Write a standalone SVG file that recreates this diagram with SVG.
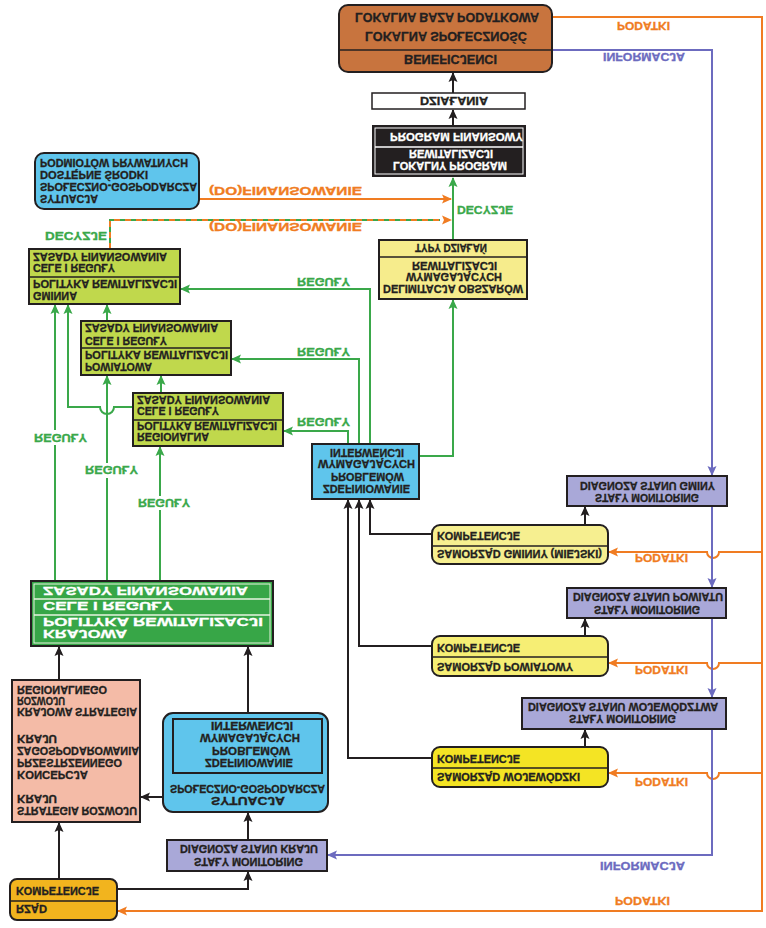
<svg xmlns="http://www.w3.org/2000/svg" width="766" height="928" viewBox="0 0 766 928">
<style>
.t{font-family:"Liberation Sans",Arial,sans-serif;font-weight:bold;font-size:11px;fill:#231f20;stroke:#231f20;stroke-width:0.3}
.w{fill:#ffffff;stroke:#ffffff}
.lg{fill:#3aa84a;stroke:#3aa84a}
.lo{fill:#f07c22;stroke:#f07c22}
.lb{fill:#6c6bbf;stroke:#6c6bbf}
.bx{stroke:#231f20;stroke-width:2}
.sep{stroke:#231f20;stroke-width:1.5;fill:none}
.cg{fill:none;stroke:#3aa84a;stroke-width:2}
.co{fill:none;stroke:#f07c22;stroke-width:2}
.cb{fill:none;stroke:#6c6bbf;stroke-width:2}
.ck{fill:none;stroke:#231f20;stroke-width:2}
</style>
<defs>
<marker id="ag" viewBox="0 0 10 10" refX="9" refY="5" markerWidth="10" markerHeight="10" markerUnits="userSpaceOnUse" orient="auto"><path d="M0,0.5 L10,5 L0,9.5 L2,5 z" fill="#3aa84a"/></marker>
<marker id="ao" viewBox="0 0 10 10" refX="9" refY="5" markerWidth="10" markerHeight="10" markerUnits="userSpaceOnUse" orient="auto"><path d="M0,0.5 L10,5 L0,9.5 L2,5 z" fill="#f07c22"/></marker>
<marker id="ab" viewBox="0 0 10 10" refX="9" refY="5" markerWidth="10" markerHeight="10" markerUnits="userSpaceOnUse" orient="auto"><path d="M0,0.5 L10,5 L0,9.5 L2,5 z" fill="#6c6bbf"/></marker>
<marker id="ak" viewBox="0 0 10 10" refX="9" refY="5" markerWidth="10" markerHeight="10" markerUnits="userSpaceOnUse" orient="auto"><path d="M0,0.5 L10,5 L0,9.5 L2,5 z" fill="#231f20"/></marker>
</defs>
<rect width="766" height="928" fill="#ffffff"/>

<g id="connectors">
  <!-- green -->
  <path class="cg" d="M55 581 V445 M55 430 V305" marker-end="url(#ag)"/>
  <path class="cg" d="M55 581 V445"/>
  <path class="cg" d="M107 581 V478 M107 463 V376" marker-end="url(#ag)"/>
  <path class="cg" d="M107 581 V478"/>
  <path class="cg" d="M160 581 V510 M160 496 V447" marker-end="url(#ag)"/>
  <path class="cg" d="M160 581 V510"/>
  <path class="cg" d="M161 393 V376" marker-end="url(#ag)"/>
  <path class="cg" d="M107 321 V305" marker-end="url(#ag)"/>
  <path class="cg" d="M133 407 H114 A7 7 0 0 1 100 407 H68 V305" marker-end="url(#ag)"/>
  <path class="cg" d="M370 444 V289 H181" marker-end="url(#ag)"/>
  <path class="cg" d="M359 444 V359 H232" marker-end="url(#ag)"/>
  <path class="cg" d="M348 444 V431 H284" marker-end="url(#ag)"/>
  <path class="cg" d="M419 456 H453 V300" marker-end="url(#ag)"/>
  <path class="cg" d="M453 240 V178" marker-end="url(#ag)"/>
  <path class="cg" d="M110 249 V220 H440"/>
  <path class="co" d="M110 249 V220 H451" stroke-dasharray="6 5" marker-end="url(#ao)"/>
  <!-- orange -->
  <path class="co" d="M199 199 H451" marker-end="url(#ao)"/>
  <path class="co" d="M552 17 H762 V911 H118" marker-end="url(#ao)"/>
  <path class="co" d="M762 552 H719 A6 6 0 0 1 707 552 H609" marker-end="url(#ao)"/>
  <path class="co" d="M762 663 H719 A6 6 0 0 1 707 663 H609" marker-end="url(#ao)"/>
  <path class="co" d="M762 773 H719 A6 6 0 0 1 707 773 H609" marker-end="url(#ao)"/>
  <!-- blue -->
  <path class="cb" d="M552 50 H712 V475" marker-end="url(#ab)"/>
  <path class="cb" d="M712 506 V587" marker-end="url(#ab)"/>
  <path class="cb" d="M712 618 V697" marker-end="url(#ab)"/>
  <path class="cb" d="M712 729 V855 H328" marker-end="url(#ab)"/>
  <!-- black -->
  <path class="ck" d="M453 125 V110" marker-end="url(#ak)"/>
  <path class="ck" d="M453 93 V73" marker-end="url(#ak)"/>
  <path class="ck" d="M432 534 H370 V500" marker-end="url(#ak)"/>
  <path class="ck" d="M432 646 H359 V500" marker-end="url(#ak)"/>
  <path class="ck" d="M432 758 H348 V500" marker-end="url(#ak)"/>
  <path class="ck" d="M585 525 V507" marker-end="url(#ak)"/>
  <path class="ck" d="M585 636 V619" marker-end="url(#ak)"/>
  <path class="ck" d="M585 747 V730" marker-end="url(#ak)"/>
  <path class="ck" d="M59 680 V647" marker-end="url(#ak)"/>
  <path class="ck" d="M248 713 V647" marker-end="url(#ak)"/>
  <path class="ck" d="M163 797 H141" marker-end="url(#ak)"/>
  <path class="ck" d="M248 840 V813" marker-end="url(#ak)"/>
  <path class="ck" d="M117 889 H248 V872" marker-end="url(#ak)"/>
  <path class="ck" d="M59 879 V823" marker-end="url(#ak)"/>
  <!-- labels -->
  <g transform="scale(1,-1)">
    <text class="t lo" x="617" y="-22" textLength="53" lengthAdjust="spacingAndGlyphs">PODATKI</text>
    <text class="t lb" x="603" y="-53" textLength="82" lengthAdjust="spacingAndGlyphs">INFORMACJA</text>
    <text class="t lo" x="209" y="-187" textLength="153" lengthAdjust="spacingAndGlyphs">(DO)FINANSOWANIE</text>
    <text class="t lo" x="209" y="-223" textLength="153" lengthAdjust="spacingAndGlyphs">(DO)FINANSOWANIE</text>
    <text class="t lg" x="45" y="-232" textLength="62" lengthAdjust="spacingAndGlyphs">DECYZJE</text>
    <text class="t lg" x="457" y="-206" textLength="56" lengthAdjust="spacingAndGlyphs">DECYZJE</text>
    <text class="t lg" x="297" y="-278" textLength="53" lengthAdjust="spacingAndGlyphs">REGUŁY</text>
    <text class="t lg" x="297" y="-348" textLength="53" lengthAdjust="spacingAndGlyphs">REGUŁY</text>
    <text class="t lg" x="297" y="-418" textLength="53" lengthAdjust="spacingAndGlyphs">REGUŁY</text>
    <text class="t lg" x="34" y="-434" textLength="53" lengthAdjust="spacingAndGlyphs">REGUŁY</text>
    <text class="t lg" x="85" y="-466" textLength="53" lengthAdjust="spacingAndGlyphs">REGUŁY</text>
    <text class="t lg" x="138" y="-499" textLength="52" lengthAdjust="spacingAndGlyphs">REGUŁY</text>
    <text class="t lo" x="635" y="-554" textLength="53" lengthAdjust="spacingAndGlyphs">PODATKI</text>
    <text class="t lo" x="635" y="-666" textLength="53" lengthAdjust="spacingAndGlyphs">PODATKI</text>
    <text class="t lo" x="635" y="-778" textLength="53" lengthAdjust="spacingAndGlyphs">PODATKI</text>
    <text class="t lb" x="600" y="-862" textLength="85" lengthAdjust="spacingAndGlyphs">INFORMACJA</text>
    <text class="t lo" x="615" y="-897" textLength="55" lengthAdjust="spacingAndGlyphs">PODATKI</text>
  </g>
</g>

<g id="lokalna">
  <rect class="bx" x="339" y="5" width="213" height="67" rx="9" fill="#c8743e"/>
  <line class="sep" x1="339" y1="50" x2="552" y2="50"/>
  <g transform="scale(1,-1)">
    <text class="t" style="font-size:12px" x="355" y="-13" textLength="184" lengthAdjust="spacingAndGlyphs">LOKALNA BAZA PODATKOWA</text>
    <text class="t" style="font-size:12px" x="365" y="-32" textLength="162" lengthAdjust="spacingAndGlyphs">LOKALNA SPOŁECZNOŚĆ</text>
    <text class="t" style="font-size:12px" x="404" y="-55" textLength="93" lengthAdjust="spacingAndGlyphs">BENEFICJENCI</text>
  </g>
</g>

<g id="dzialania">
  <rect x="372" y="93" width="153" height="16" fill="#ffffff" stroke="#231f20" stroke-width="1.5"/>
  <g transform="scale(1,-1)">
    <text class="t" style="font-size:10px" x="420" y="-97" textLength="68" lengthAdjust="spacingAndGlyphs">DZIAŁANIA</text>
  </g>
</g>

<g id="program">
  <rect x="372" y="125" width="154" height="52" fill="#231f20"/>
  <rect x="375" y="128" width="148" height="46" fill="none" stroke="#ffffff" stroke-width="1"/>
  <line x1="375" y1="147" x2="523" y2="147" stroke="#ffffff" stroke-width="1.5"/>
  <g transform="scale(1,-1)">
    <text class="t w" x="390" y="-133" textLength="133" lengthAdjust="spacingAndGlyphs">PROGRAM FINANSOWY</text>
    <text class="t w" x="409" y="-150" textLength="84" lengthAdjust="spacingAndGlyphs">REWITALIZACJI</text>
    <text class="t w" x="393" y="-162" textLength="114" lengthAdjust="spacingAndGlyphs">LOKALNY PROGRAM</text>
  </g>
</g>

<g id="delimitacja">
  <rect class="bx" x="379" y="240" width="148" height="59" fill="#f6ec8c"/>
  <line class="sep" x1="379" y1="257" x2="527" y2="257"/>
  <g transform="scale(1,-1)">
    <text class="t" x="415" y="-244" textLength="72" lengthAdjust="spacingAndGlyphs">TYPY DZIAŁAŃ</text>
    <text class="t" x="412" y="-262" textLength="85" lengthAdjust="spacingAndGlyphs">REWITALIZACJI</text>
    <text class="t" x="406" y="-273" textLength="96" lengthAdjust="spacingAndGlyphs">WYMAGAJĄCYCH</text>
    <text class="t" x="383" y="-285" textLength="140" lengthAdjust="spacingAndGlyphs">DELIMITACJA OBSZARÓW</text>
  </g>
</g>

<g id="sytuacja-lokalna">
  <rect class="bx" x="35" y="153" width="164" height="56" rx="9" fill="#5fc5ec"/>
  <g transform="scale(1,-1)">
    <text class="t" x="40" y="-159" textLength="148" lengthAdjust="spacingAndGlyphs">PODMIOTÓW PRYWATNYCH</text>
    <text class="t" x="40" y="-171" textLength="108" lengthAdjust="spacingAndGlyphs">DOSTĘPNE ŚRODKI</text>
    <text class="t" x="40" y="-183" textLength="157" lengthAdjust="spacingAndGlyphs">SPOŁECZNO-GOSPODARCZA</text>
    <text class="t" x="40" y="-195" textLength="58" lengthAdjust="spacingAndGlyphs">SYTUACJA</text>
  </g>
</g>

<g id="gminna">
  <rect class="bx" x="29" y="249" width="151" height="55" fill="#c0d84c"/>
  <line class="sep" x1="29" y1="277" x2="180" y2="277"/>
  <g transform="scale(1,-1)">
    <text class="t" x="33" y="-253" textLength="134" lengthAdjust="spacingAndGlyphs">ZASADY FINANSOWANIA</text>
    <text class="t" x="33" y="-264" textLength="82" lengthAdjust="spacingAndGlyphs">CELE I REGUŁY</text>
    <text class="t" x="33" y="-280" textLength="144" lengthAdjust="spacingAndGlyphs">POLITYKA REWITALIZACJI</text>
    <text class="t" x="33" y="-292" textLength="44" lengthAdjust="spacingAndGlyphs">GMINNA</text>
  </g>
</g>

<g id="powiatowa">
  <rect class="bx" x="81" y="321" width="150" height="54" fill="#c0d84c"/>
  <line class="sep" x1="81" y1="348" x2="231" y2="348"/>
  <g transform="scale(1,-1)">
    <text class="t" x="85" y="-324" textLength="133" lengthAdjust="spacingAndGlyphs">ZASADY FINANSOWANIA</text>
    <text class="t" x="85" y="-337" textLength="82" lengthAdjust="spacingAndGlyphs">CELE I REGUŁY</text>
    <text class="t" x="85" y="-351" textLength="143" lengthAdjust="spacingAndGlyphs">POLITYKA REWITALIZACJI</text>
    <text class="t" x="85" y="-363" textLength="67" lengthAdjust="spacingAndGlyphs">POWIATOWA</text>
  </g>
</g>

<g id="regionalna">
  <rect class="bx" x="133" y="393" width="150" height="53" fill="#c0d84c"/>
  <line class="sep" x1="133" y1="420" x2="283" y2="420"/>
  <g transform="scale(1,-1)">
    <text class="t" x="137" y="-396" textLength="133" lengthAdjust="spacingAndGlyphs">ZASADY FINANSOWANIA</text>
    <text class="t" x="137" y="-407" textLength="82" lengthAdjust="spacingAndGlyphs">CELE I REGUŁY</text>
    <text class="t" x="137" y="-422" textLength="140" lengthAdjust="spacingAndGlyphs">POLITYKA REWITALIZACJI</text>
    <text class="t" x="137" y="-433" textLength="72" lengthAdjust="spacingAndGlyphs">REGIONALNA</text>
  </g>
</g>

<g id="zdefiniowanie">
  <rect class="bx" x="312" y="444" width="107" height="55" fill="#5fc5ec"/>
  <g transform="scale(1,-1)">
    <text class="t" x="330" y="-449" textLength="74" lengthAdjust="spacingAndGlyphs">INTERWENCJI</text>
    <text class="t" x="318" y="-460" textLength="97" lengthAdjust="spacingAndGlyphs">WYMAGAJĄCYCH</text>
    <text class="t" x="331" y="-473" textLength="73" lengthAdjust="spacingAndGlyphs">PROBLEMÓW</text>
    <text class="t" x="323" y="-485" textLength="87" lengthAdjust="spacingAndGlyphs">ZDEFINIOWANIE</text>
  </g>
</g>

<g id="diagnoza-gminy">
  <rect class="bx" x="567" y="476" width="160" height="30" fill="#a9a8d8"/>
  <g transform="scale(1,-1)">
    <text class="t" x="580" y="-482" textLength="135" lengthAdjust="spacingAndGlyphs">DIAGNOZA STANU GMINY</text>
    <text class="t" x="595" y="-494" textLength="104" lengthAdjust="spacingAndGlyphs">STAŁY MONITORING</text>
  </g>
</g>

<g id="samorzad-gminny">
  <rect class="bx" x="432" y="525" width="176" height="39" rx="8" fill="#f6ef90"/>
  <line class="sep" x1="432" y1="546" x2="608" y2="546"/>
  <g transform="scale(1,-1)">
    <text class="t" x="437" y="-532" textLength="83" lengthAdjust="spacingAndGlyphs">KOMPETENCJE</text>
    <text class="t" x="437" y="-550" textLength="165" lengthAdjust="spacingAndGlyphs">SAMORZĄD GMINNY (MIEJSKI)</text>
  </g>
</g>

<g id="krajowa">
  <rect class="bx" x="31" y="581" width="242" height="65" fill="#37a647"/>
  <rect x="34" y="584" width="236" height="59" fill="none" stroke="#e8f3e0" stroke-width="1"/>
  <line x1="34" y1="599" x2="270" y2="599" stroke="#e8f3e0" stroke-width="1.5"/>
  <line x1="34" y1="615" x2="270" y2="615" stroke="#e8f3e0" stroke-width="1.5"/>
  <g transform="scale(1,-1)">
    <text class="t w" style="font-size:11.5px" x="43" y="-587" textLength="205" lengthAdjust="spacingAndGlyphs">ZASADY FINANSOWANIA</text>
    <text class="t w" style="font-size:11.5px" x="43" y="-602" textLength="130" lengthAdjust="spacingAndGlyphs">CELE I REGUŁY</text>
    <text class="t w" style="font-size:11.5px" x="43" y="-618" textLength="220" lengthAdjust="spacingAndGlyphs">POLITYKA REWITALIZACJI</text>
    <text class="t w" style="font-size:11.5px" x="43" y="-630" textLength="84" lengthAdjust="spacingAndGlyphs">KRAJOWA</text>
  </g>
</g>

<g id="diagnoza-powiatu">
  <rect class="bx" x="567" y="588" width="159" height="30" fill="#a9a8d8"/>
  <g transform="scale(1,-1)">
    <text class="t" x="573" y="-593" textLength="150" lengthAdjust="spacingAndGlyphs">DIAGNOZA STANU POWIATU</text>
    <text class="t" x="594" y="-606" textLength="106" lengthAdjust="spacingAndGlyphs">STAŁY MONITORING</text>
  </g>
</g>

<g id="samorzad-powiatowy">
  <rect class="bx" x="432" y="636" width="176" height="40" rx="8" fill="#f6ee74"/>
  <line class="sep" x1="432" y1="657" x2="608" y2="657"/>
  <g transform="scale(1,-1)">
    <text class="t" x="437" y="-644" textLength="83" lengthAdjust="spacingAndGlyphs">KOMPETENCJE</text>
    <text class="t" x="437" y="-663" textLength="136" lengthAdjust="spacingAndGlyphs">SAMORZĄD POWIATOWY</text>
  </g>
</g>

<g id="diagnoza-wojewodztwa">
  <rect class="bx" x="522" y="698" width="204" height="31" fill="#a9a8d8"/>
  <g transform="scale(1,-1)">
    <text class="t" x="528" y="-703" textLength="190" lengthAdjust="spacingAndGlyphs">DIAGNOZA STANU WOJEWÓDZTWA</text>
    <text class="t" x="569" y="-715" textLength="107" lengthAdjust="spacingAndGlyphs">STAŁY MONITORING</text>
  </g>
</g>

<g id="samorzad-wojewodzki">
  <rect class="bx" x="432" y="747" width="176" height="40" rx="8" fill="#f4e424"/>
  <line class="sep" x1="432" y1="768" x2="608" y2="768"/>
  <g transform="scale(1,-1)">
    <text class="t" x="437" y="-755" textLength="83" lengthAdjust="spacingAndGlyphs">KOMPETENCJE</text>
    <text class="t" x="437" y="-773" textLength="143" lengthAdjust="spacingAndGlyphs">SAMORZĄD WOJEWÓDZKI</text>
  </g>
</g>

<g id="strategie">
  <rect class="bx" x="12" y="680" width="128" height="142" fill="#f4bba7"/>
  <g transform="scale(1,-1)">
    <text class="t" x="17" y="-686" textLength="90" lengthAdjust="spacingAndGlyphs">REGIONALNEGO</text>
    <text class="t" x="17" y="-697" textLength="48" lengthAdjust="spacingAndGlyphs">ROZWOJU</text>
    <text class="t" x="17" y="-708" textLength="120" lengthAdjust="spacingAndGlyphs">KRAJOWA STRATEGIA</text>
    <text class="t" x="17" y="-735" textLength="40" lengthAdjust="spacingAndGlyphs">KRAJU</text>
    <text class="t" x="17" y="-747" textLength="122" lengthAdjust="spacingAndGlyphs">ZAGOSPODAROWANIA</text>
    <text class="t" x="17" y="-759" textLength="105" lengthAdjust="spacingAndGlyphs">PRZESTRZENNEGO</text>
    <text class="t" x="17" y="-771" textLength="71" lengthAdjust="spacingAndGlyphs">KONCEPCJA</text>
    <text class="t" x="17" y="-795" textLength="40" lengthAdjust="spacingAndGlyphs">KRAJU</text>
    <text class="t" x="17" y="-807" textLength="120" lengthAdjust="spacingAndGlyphs">STRATEGIA ROZWOJU</text>
  </g>
</g>

<g id="sytuacja-kraj">
  <rect class="bx" x="163" y="713" width="165" height="99" rx="10" fill="#5fc5ec"/>
  <rect class="bx" x="173" y="719" width="149" height="54" fill="none"/>
  <g transform="scale(1,-1)">
    <text class="t" x="211" y="-722" textLength="82" lengthAdjust="spacingAndGlyphs">INTERWENCJI</text>
    <text class="t" x="200" y="-734" textLength="100" lengthAdjust="spacingAndGlyphs">WYMAGAJĄCYCH</text>
    <text class="t" x="212" y="-747" textLength="78" lengthAdjust="spacingAndGlyphs">PROBLEMÓW</text>
    <text class="t" x="205" y="-759" textLength="88" lengthAdjust="spacingAndGlyphs">ZDEFINIOWANIE</text>
    <text class="t" x="170" y="-785" textLength="155" lengthAdjust="spacingAndGlyphs">SPOŁECZNO-GOSPODARCZA</text>
    <text class="t" x="211" y="-797" textLength="74" lengthAdjust="spacingAndGlyphs">SYTUACJA</text>
  </g>
</g>

<g id="diagnoza-kraju">
  <rect class="bx" x="167" y="840" width="160" height="31" fill="#a9a8d8"/>
  <g transform="scale(1,-1)">
    <text class="t" x="180" y="-845" textLength="138" lengthAdjust="spacingAndGlyphs">DIAGNOZA STANU KRAJU</text>
    <text class="t" x="194" y="-858" textLength="109" lengthAdjust="spacingAndGlyphs">STAŁY MONITORING</text>
  </g>
</g>

<g id="rzad">
  <rect class="bx" x="10" y="879" width="107" height="41" rx="7" fill="#f2b41e"/>
  <line class="sep" x1="10" y1="901" x2="117" y2="901"/>
  <g transform="scale(1,-1)">
    <text class="t" x="16" y="-887" textLength="83" lengthAdjust="spacingAndGlyphs">KOMPETENCJE</text>
    <text class="t" x="16" y="-905" textLength="31" lengthAdjust="spacingAndGlyphs">RZĄD</text>
  </g>
</g>
</svg>
